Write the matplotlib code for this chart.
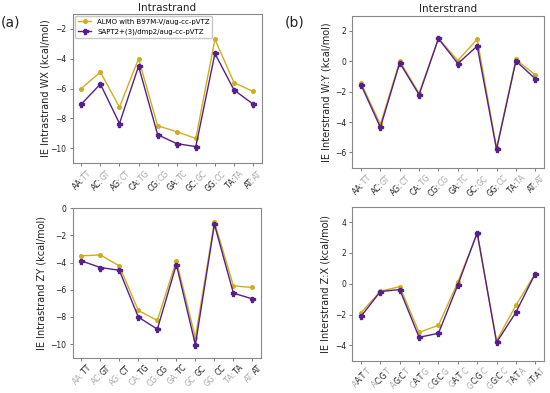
import numpy as np
import matplotlib
matplotlib.use("Agg")
import matplotlib.pyplot as plt
from matplotlib.font_manager import FontProperties, findfont, get_font

steps = ["AA:TT", "AC:GT", "AG:CT", "CA:TG", "CG:CG", "GA:TC", "GC:GC", "GG:CC", "TA:TA", "AT:AT"]

almo_wx = [-6.0, -4.9, -7.25, -4.0, -8.5, -8.9, -9.35, -2.7, -5.6, -6.2]
sapt_wx = [-7.05, -5.7, -8.35, -4.5, -9.1, -9.7, -9.9, -3.65, -6.1, -7.05]

almo_zy = [-3.5, -3.43, -4.24, -7.52, -8.26, -3.85, -9.53, -1.0, -5.71, -5.83]
sapt_zy = [-3.87, -4.36, -4.56, -8.01, -8.9, -4.14, -10.05, -1.18, -6.25, -6.67]

almo_wy = [-1.42, -4.15, 0.0, -2.1, 1.5, 0.05, 1.45, -5.7, 0.12, -0.9]
sapt_wy = [-1.54, -4.35, -0.1, -2.2, 1.5, -0.15, 1.0, -5.8, 0.02, -1.15]

almo_zx = [-1.88, -0.49, -0.19, -3.16, -2.7, 0.1, 3.25, -3.7, -1.4, 0.66]
sapt_zx = [-2.12, -0.51, -0.38, -3.48, -3.22, -0.08, 3.31, -3.81, -1.86, 0.66]

C_ALMO = "#cfae1e"
C_SAPT = "#55208a"
BLACK = "#222222"
GRAY = "#a8a8a8"

W, H = 550, 393
DPI = 100
fig = plt.figure(figsize=(W / DPI, H / DPI), dpi=DPI)

def rect(l, t, r, b):
    return [l / W, 1 - b / H, (r - l) / W, (b - t) / H]

axA1 = fig.add_axes(rect(72.7, 14, 261.7, 163))
axA2 = fig.add_axes(rect(72.7, 208.3, 261.0, 357.7))
axB1 = fig.add_axes(rect(352.3, 15.7, 544, 167.7))
axB2 = fig.add_axes(rect(352.3, 206.7, 544, 360.7))

x = np.arange(len(steps))

# color masks per character: 1 = black, 0 = gray
mask_first = [1, 1, 1, 0, 0]   # "AA:" black, "TT" gray
mask_second = [0, 0, 0, 1, 1]  # "AA:" gray, "TT" black
mask_mid = [0, 1, 1, 1, 0]     # "A" gray, "A:T" black, "T" gray

panels = [
    (axA1, almo_wx, sapt_wx, (-11, -1), [-10, -8, -6, -4, -2], "IE Intrastrand WX (kcal/mol)", mask_first, -0.12),
    (axA2, almo_zy, sapt_zy, (-11, 0), [-10, -8, -6, -4, -2, 0], "IE Intrastrand ZY (kcal/mol)", mask_second, -0.138),
    (axB1, almo_wy, sapt_wy, (-7, 3), [-6, -4, -2, 0, 2], "IE Interstrand W:Y (kcal/mol)", mask_first, -0.111),
    (axB2, almo_zx, sapt_zx, (-5, 5), [-4, -2, 0, 2, 4], "IE Interstrand Z:X (kcal/mol)", mask_mid, -0.116),
]

for ax, a, s, yl, yt, lab, mask, lx in panels:
    ax.plot(x, a, "-o", color=C_ALMO, lw=1.0, ms=2.6, label="ALMO with B97M-V/aug-cc-pVTZ", zorder=3)
    ax.plot(x, s, "-P", color=C_SAPT, lw=1.0, ms=3.6, label="SAPT2+(3)/dmp2/aug-cc-pVTZ", zorder=4)
    ax.set_ylim(*yl)
    ax.set_yticks(yt)
    ax.set_xlim(-0.45, 9.45)
    ax.set_xticks(x)
    ax.set_xticklabels([])
    ax.tick_params(axis="both", labelsize=5.5, length=2.5, width=0.6, color="#666666", pad=2, labelcolor=BLACK)
    for sp in ax.spines.values():
        sp.set_color("#888888")
        sp.set_linewidth(0.8)
    ax.set_ylabel(lab, fontsize=7, color=BLACK)
    ax.yaxis.set_label_coords(lx, 0.5)

axA1.set_title("Intrastrand", fontsize=7.5, pad=2.5, color=BLACK)
axB1.set_title("Interstrand", fontsize=7.5, pad=2.5, color=BLACK)
leg = axA1.legend(loc="upper left", fontsize=5, frameon=True, borderaxespad=0.3,
                  handlelength=2.0, labelspacing=0.5, borderpad=0.4)
leg.get_frame().set_edgecolor("#bbbbbb")

fig.text(11 / W, 1 - 23 / H, "(a)", fontsize=10, ha="center", va="center", color=BLACK)
fig.text(295 / W, 1 - 22 / H, "(b)", fontsize=10, ha="center", va="center", color=BLACK)

# two-tone rotated tick labels built from segments placed by glyph advances
fig.canvas.draw()
renderer = fig.canvas.get_renderer()
FS = 5.6
fp = FontProperties(family="DejaVu Sans", size=FS)
ft = get_font(findfont(fp))
ft.set_size(FS, DPI)
try:
    from matplotlib.ft2font import Kerning
    KMODE = Kerning.DEFAULT
except Exception:
    KMODE = 0

def advance(s):
    tot = 0.0
    prev = None
    for ch in s:
        idx = ft.get_char_index(ord(ch))
        if prev is not None:
            try:
                tot += ft.get_kerning(prev, idx, KMODE) / 64.0
            except Exception:
                pass
        g = ft.load_char(ord(ch))
        tot += g.linearHoriAdvance / 65536.0
        prev = idx
    return tot

cs = np.cos(np.pi / 4)
pad_px = (2.5 + 2.0) * DPI / 72.0
inv = fig.transFigure.inverted()

for ax, a, s, yl, yt, lab, mask, lx in panels:
    yb = ax.transAxes.transform((0, 0))[1]
    for i, lbl in enumerate(steps):
        tx = ax.transData.transform((i, yl[0]))[0]
        wfull, hfull, dfull = renderer.get_text_width_height_descent(lbl, fp, ismath=False)
        asc = hfull - dfull
        ox = tx - (wfull * cs + (dfull - asc) * cs) / 2.0
        oy = yb - pad_px - wfull * cs - asc * cs
        segs = []
        for ch, m in zip(lbl, mask):
            if segs and segs[-1][1] == m:
                segs[-1][0] += ch
            else:
                segs.append([ch, m])
        n_done = 0
        for txt, m in segs:
            u = advance(lbl[:n_done])
            fx, fy = inv.transform((ox + u * cs, oy + u * cs))
            fig.text(fx, fy, txt, fontproperties=fp, rotation=45, rotation_mode="anchor",
                     ha="left", va="baseline", color=BLACK if m else GRAY)
            n_done += len(txt)

fig.savefig("out.png", dpi=DPI)
